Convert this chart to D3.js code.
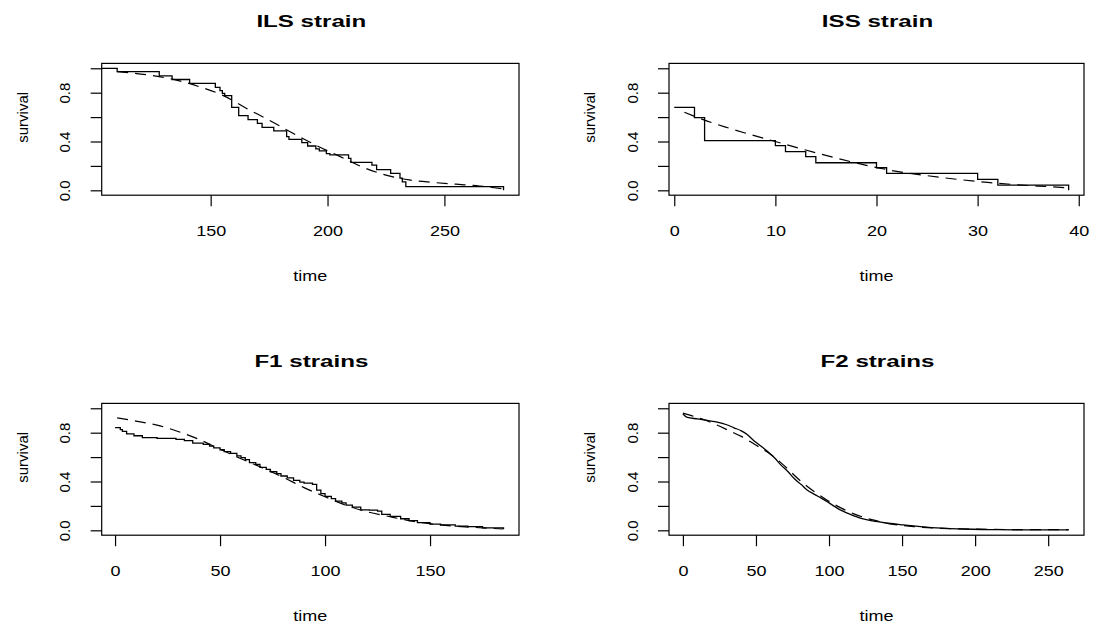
<!DOCTYPE html>
<html><head><meta charset="utf-8">
<script src="https://cdn.jsdelivr.net/npm/d3@7"></script>
<style>
body{margin:0;background:#fff}
svg text{font-family:"Liberation Sans",Arial,Helvetica,sans-serif;fill:#000}
</style>
</head><body>
<svg id="chart" width="1094" height="626"></svg>
<script>
// ---------- data ----------
const panelTitles = ["ILS strain", "ISS strain", "F1 strains", "F2 strains"];
const xAxisLabel = "time";
const yAxisLabel = "survival";
const yTickValues = [0, 0.2, 0.4, 0.6, 0.8, 1.0];
const yTickLabels = {"0": "0.0", "0.4": "0.4", "0.8": "0.8"};

const ilsXlim = [110, 275.3];
const ilsXTicks = [150, 200, 250];
const ilsKM = [[0,1],[110,0.973],[128,0.937],[133.5,0.908],[141,0.877],[152,0.844],[154,0.817],[155,0.795],[156,0.776],[159,0.68],[162,0.612],[166,0.58],[170,0.548],[172,0.516],[177,0.487],[182.5,0.44],[183.5,0.418],[189,0.39],[191.5,0.363],[195,0.34],[196.5,0.323],[199.5,0.30],[201,0.29],[209,0.262],[210,0.229],[219,0.207],[221,0.17],[227,0.139],[231,0.10],[232,0.07],[233.5,0.03],[275.3,0.0]];
const ilsFit = [[110,0.972],[125,0.94],[135,0.905],[145,0.85],[155,0.78],[165,0.675],[175,0.575],[185,0.47],[195,0.37],[205,0.28],[215,0.19],[225,0.125],[235,0.085],[245,0.065],[255,0.05],[265,0.035],[275,0.012]];

const issXlim = [1, 39];
const issXTicks = [0, 10, 20, 30, 40];
const issKM = [[0,0.68],[2,0.595],[3,0.407],[10,0.366],[11,0.317],[13,0.276],[14,0.226],[20,0.185],[21,0.139],[30,0.09],[32,0.043],[39,0.0]];
const issFit = [[1,0.64],[3,0.575],[5,0.52],[7,0.47],[10,0.40],[13,0.33],[16,0.265],[19,0.205],[22,0.155],[25,0.12],[28,0.09],[31,0.065],[34,0.045],[37,0.03],[39,0.02]];

const f1Xlim = [1, 185];
const f1XTicks = [0, 50, 100, 150];
const f1KM = [[0,0.841],[2.5,0.825],[3.5,0.81],[5.5,0.79],[9,0.775],[13,0.76],[20,0.754],[29,0.745],[33,0.735],[37,0.715],[42,0.705],[45,0.69],[47,0.675],[50,0.66],[52,0.645],[55,0.63],[58,0.61],[60,0.595],[62,0.58],[64,0.555],[67,0.54],[69,0.515],[72,0.5],[74,0.48],[77,0.465],[79,0.445],[82,0.43],[85,0.41],[88,0.395],[90,0.387],[94,0.377],[96,0.33],[98,0.3],[100,0.278],[103,0.26],[105,0.24],[108,0.225],[110,0.207],[113,0.19],[117,0.168],[121,0.165],[125,0.158],[127,0.13],[131,0.115],[136,0.095],[140,0.08],[144,0.063],[150,0.05],[155,0.045],[162,0.035],[168,0.03],[175,0.02],[185,0.011]];
const f1Fit = [[1,0.922],[10,0.895],[20,0.862],[30,0.81],[40,0.745],[50,0.665],[60,0.587],[70,0.513],[80,0.435],[90,0.35],[100,0.275],[110,0.205],[120,0.152],[130,0.115],[140,0.08],[150,0.054],[160,0.037],[170,0.025],[185,0.011]];

const f2Xlim = [1, 264];
const f2XTicks = [0, 50, 100, 150, 200, 250];
const f2KM = [[0,0.953],[3,0.925],[10,0.913],[22,0.89],[30,0.865],[35,0.84],[40,0.815],[44,0.785],[49,0.73],[54,0.685],[58,0.645],[63,0.59],[67,0.536],[72,0.48],[76,0.426],[81,0.375],[85,0.331],[90,0.295],[95,0.262],[100,0.225],[104,0.194],[108,0.165],[113,0.139],[118,0.115],[122,0.098],[130,0.077],[138,0.062],[151,0.044],[170,0.022],[192,0.011],[215,0.005],[240,0.004],[264,0.003]];
const f2Fit = [[0,0.96],[15,0.904],[33,0.809],[40,0.77],[49,0.705],[58,0.64],[67,0.555],[81,0.40],[99,0.245],[117,0.135],[130,0.085],[138,0.062],[158,0.030],[192,0.011],[230,0.006],[264,0.005]];

// ---------- layout ----------
const boxes = [
  {x0: 101.7, x1: 519, y0: 63.4, y1: 195.2},
  {x0: 669,   x1: 1084, y0: 63.4, y1: 195.2},
  {x0: 101.7, x1: 519, y0: 403.4, y1: 535.2},
  {x0: 669,   x1: 1084, y0: 403.4, y1: 535.2}
];
const panels = [
  {title: panelTitles[0], xlim: ilsXlim, ticks: ilsXTicks, km: ilsKM, fit: ilsFit, step: true},
  {title: panelTitles[1], xlim: issXlim, ticks: issXTicks, km: issKM, fit: issFit, step: true},
  {title: panelTitles[2], xlim: f1Xlim, ticks: f1XTicks, km: f1KM, fit: f1Fit, step: true},
  {title: panelTitles[3], xlim: f2Xlim, ticks: f2XTicks, km: f2KM, fit: f2Fit, step: false}
];

const TXT_SX = 1.2;    // horizontal stretch of regular text
const TITLE_SX = 1.42; // horizontal stretch of titles

const svg = d3.select("#chart");
const ylim = [0, 1];
function expand(l) { const p = (l[1] - l[0]) * 0.04; return [l[0] - p, l[1] + p]; }

panels.forEach((p, i) => {
  const b = boxes[i];
  const x = d3.scaleLinear().domain(expand(p.xlim)).range([b.x0, b.x1]);
  const y = d3.scaleLinear().domain(expand(ylim)).range([b.y1, b.y0]);
  const g = svg.append("g");

  const clipId = "clip" + i;
  svg.append("clipPath").attr("id", clipId).append("rect")
    .attr("x", b.x0).attr("y", b.y0).attr("width", b.x1 - b.x0).attr("height", b.y1 - b.y0);

  // fitted (dashed)
  g.append("path").datum(p.fit)
    .attr("clip-path", `url(#${clipId})`)
    .attr("fill", "none").attr("stroke", "#000").attr("stroke-width", 1.2)
    .attr("stroke-dasharray", "11,7")
    .attr("d", d3.line().x(d => x(d[0])).y(d => y(d[1])).curve(d3.curveMonotoneX));

  // Kaplan-Meier (solid)
  g.append("path").datum(p.km)
    .attr("clip-path", `url(#${clipId})`)
    .attr("fill", "none").attr("stroke", "#000").attr("stroke-width", 1.3)
    .attr("d", d3.line().x(d => x(d[0])).y(d => y(d[1]))
      .curve(p.step ? d3.curveStepAfter : d3.curveMonotoneX));

  // box
  g.append("rect").attr("x", b.x0).attr("y", b.y0)
    .attr("width", b.x1 - b.x0).attr("height", b.y1 - b.y0)
    .attr("fill", "none").attr("stroke", "#000").attr("stroke-width", 1.2);

  // x axis
  const xa = g.append("g").attr("transform", `translate(0,${b.y1})`)
    .call(d3.axisBottom(x).tickValues(p.ticks).tickSize(11).tickFormat(d3.format("d")));
  xa.select(".domain").remove();
  xa.selectAll("line").attr("stroke", "#000").attr("stroke-width", 1.2);
  xa.selectAll("text").attr("font-size", 15).attr("fill", "#000")
    .attr("y", null).attr("dy", null).attr("text-anchor", "middle")
    .attr("transform", `translate(0,40.5) scale(${TXT_SX},1)`);

  // y axis
  const ya = g.append("g").attr("transform", `translate(${b.x0},0)`)
    .call(d3.axisLeft(y).tickValues(yTickValues).tickSize(11)
      .tickFormat(d => yTickLabels[String(+d.toFixed(1))] || ""));
  ya.select(".domain").remove();
  ya.selectAll("line").attr("stroke", "#000").attr("stroke-width", 1.2);
  ya.selectAll("text").attr("font-size", 15).attr("fill", "#000")
    .attr("x", null).attr("dy", null).attr("text-anchor", "middle")
    .attr("transform", "translate(-31.5,0) rotate(-90)");

  // titles and axis labels
  g.append("text")
    .attr("transform", `translate(${(b.x0 + b.x1) / 2 + 1},${b.y0 - 36}) scale(${TITLE_SX},1)`)
    .attr("text-anchor", "middle").attr("font-weight", "bold").attr("font-size", 17)
    .text(p.title);
  g.append("text")
    .attr("transform", `translate(${(b.x0 + b.x1) / 2},${b.y1 + 86}) scale(${TXT_SX},1)`)
    .attr("text-anchor", "middle").attr("font-size", 15).text(xAxisLabel);
  g.append("text")
    .attr("transform", `translate(${b.x0 - 74},${(b.y0 + b.y1) / 2 - 12}) rotate(-90)`)
    .attr("text-anchor", "middle").attr("font-size", 15).text(yAxisLabel);
});
</script>
</body></html>
